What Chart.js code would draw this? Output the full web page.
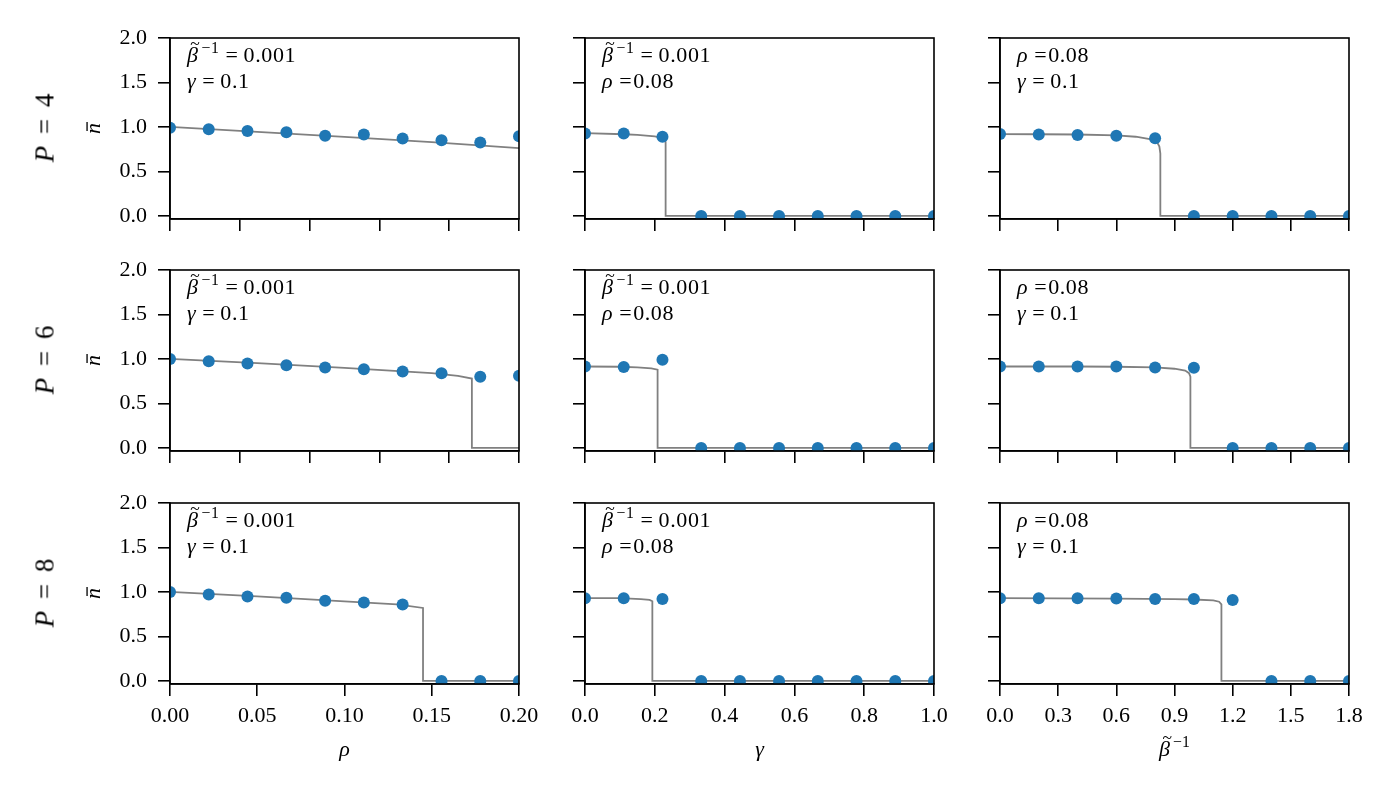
<!DOCTYPE html>
<html>
<head>
<meta charset="utf-8">
<script src="https://cdn.jsdelivr.net/npm/chart.js@4.4.1/dist/chart.umd.min.js"></script>
<style>
  html, body { margin: 0; padding: 0; background: #fff; }
  #fig { position: relative; width: 1394px; height: 796px; overflow: hidden; }
  .panel { position: absolute; }
  .rowlab { position: absolute; font-family: 'Liberation Serif', serif; font-size: 27px; word-spacing: 5px;
            transform: translate(-50%, -50%) rotate(-90deg); white-space: nowrap; }
</style>
</head>
<body>
<div id="fig"></div>
<script>
// sample positions of the dots
const rhoX   = [0, 0.0222, 0.0444, 0.0667, 0.0889, 0.1111, 0.1333, 0.1556, 0.1778, 0.2];
const gammaX = [0, 0.111, 0.222, 0.333, 0.444, 0.556, 0.667, 0.778, 0.889, 1.0];
const betaX  = [0, 0.2, 0.4, 0.6, 0.8, 1.0, 1.2, 1.4, 1.6, 1.8];

// dots (n bar), one array per panel
const dotsP4Rho   = [0.99, 0.975, 0.955, 0.94, 0.90, 0.915, 0.87, 0.85, 0.825, 0.895];
const dotsP4Gamma = [0.925, 0.925, 0.89, 0, 0, 0, 0, 0, 0, 0];
const dotsP4Beta  = [0.92, 0.915, 0.91, 0.90, 0.873, 0, 0, 0, 0, 0];
const dotsP6Rho   = [1.0, 0.975, 0.95, 0.93, 0.905, 0.885, 0.86, 0.84, 0.80, 0.81];
const dotsP6Gamma = [0.915, 0.91, 0.99, 0, 0, 0, 0, 0, 0, 0];
const dotsP6Beta  = [0.915, 0.915, 0.915, 0.915, 0.905, 0.90, 0, 0, 0, 0];
const dotsP8Rho   = [1.0, 0.97, 0.95, 0.935, 0.90, 0.88, 0.86, 0, 0, 0];
const dotsP8Gamma = [0.93, 0.93, 0.92, 0, 0, 0, 0, 0, 0, 0];
const dotsP8Beta  = [0.93, 0.93, 0.928, 0.925, 0.92, 0.92, 0.91, 0, 0, 0];

// theory curves
const curveP4RhoX   = [0, 0.05, 0.1, 0.15, 0.2];
const curveP4RhoY   = [1.0, 0.945, 0.888, 0.83, 0.762];
const curveP4GammaX = [0, 0.111, 0.15, 0.2, 0.222, 0.231, 0.231, 1.0];
const curveP4GammaY = [0.93, 0.918, 0.91, 0.895, 0.875, 0.83, 0, 0];
const curveP4BetaX  = [0, 0.2, 0.4, 0.6, 0.7, 0.78, 0.81, 0.822, 0.827, 0.827, 1.8];
const curveP4BetaY  = [0.92, 0.918, 0.915, 0.905, 0.89, 0.86, 0.83, 0.78, 0.70, 0, 0];
const curveP6RhoX   = [0, 0.05, 0.1, 0.15, 0.165, 0.173, 0.173, 0.2];
const curveP6RhoY   = [1.0, 0.953, 0.9, 0.84, 0.81, 0.78, 0, 0];
const curveP6GammaX = [0, 0.1, 0.15, 0.19, 0.208, 0.208, 1.0];
const curveP6GammaY = [0.915, 0.912, 0.905, 0.895, 0.88, 0, 0];
const curveP6BetaX  = [0, 0.4, 0.6, 0.8, 0.9, 0.955, 0.975, 0.982, 0.982, 1.8];
const curveP6BetaY  = [0.915, 0.915, 0.912, 0.905, 0.89, 0.87, 0.84, 0.80, 0, 0];
const curveP8RhoX   = [0, 0.05, 0.1, 0.13, 0.145, 0.145, 0.2];
const curveP8RhoY   = [1.0, 0.95, 0.895, 0.86, 0.82, 0, 0];
const curveP8GammaX = [0, 0.1, 0.16, 0.185, 0.193, 0.193, 1.0];
const curveP8GammaY = [0.93, 0.93, 0.92, 0.91, 0.895, 0, 0];
const curveP8BetaX  = [0, 0.6, 0.9, 1.0, 1.1, 1.13, 1.142, 1.142, 1.8];
const curveP8BetaY  = [0.93, 0.925, 0.92, 0.915, 0.905, 0.89, 0.86, 0, 0];

// ticks
const nTicks       = [0, 0.5, 1.0, 1.5, 2.0];
const rhoTicksTop  = [0, 0.04, 0.08, 0.12, 0.16, 0.2];
const rhoTicks     = [0, 0.05, 0.1, 0.15, 0.2];
const gammaTicks   = [0, 0.2, 0.4, 0.6, 0.8, 1.0];
const betaTicks    = [0, 0.3, 0.6, 0.9, 1.2, 1.5, 1.8];

const rowLabels = ['4', '6', '8'];

const FONT = 'Liberation Serif';
const TXT = 22;
const colLeft = [170, 585, 1000];
const rowTop = [38, 270, 503];
const plotW = 349, plotH = 181;
const padL = 130, padT = 15, padR = 35, padB = 90;

const fig = document.getElementById('fig');

// text made of runs: italic letters, superscripts, accents, gaps
function runFont(r, size) {
  const s = r.sup ? size * 0.72 : size;
  return (r.it ? 'italic ' : '') + s + 'px "' + FONT + '"';
}
function runsWidth(ctx, runs, size) {
  let w = 0;
  runs.forEach(r => {
    if (r.gap) { w += r.gap; return; }
    ctx.font = runFont(r, size);
    w += ctx.measureText(r.t).width;
  });
  return w;
}
function drawRuns(ctx, runs, x, yMid, size) {
  const base = yMid + 0.33 * size;
  ctx.textBaseline = 'alphabetic';
  ctx.textAlign = 'left';
  runs.forEach(r => {
    if (r.gap) { x += r.gap; return; }
    ctx.font = runFont(r, size);
    const w = ctx.measureText(r.t).width;
    ctx.fillText(r.t, x, r.sup ? base - 0.42 * size : base);
    if (r.acc === 'tilde') {
      ctx.font = (0.8 * size) + 'px "' + FONT + '"';
      const tw = ctx.measureText('~').width;
      ctx.fillText('~', x + w / 2 - tw / 2 + 0.12 * size, base - 0.6 * size);
    } else if (r.acc === 'bar') {
      ctx.beginPath();
      ctx.lineWidth = size * 0.06;
      ctx.moveTo(x + 0.14 * size, base - 0.6 * size);
      ctx.lineTo(x + w + 0.04 * size, base - 0.6 * size);
      ctx.stroke();
    }
    x += w;
  });
}

const textPlugin = {
  id: 'texts',
  afterDraw(chart, args, opts) {
    const { ctx, chartArea: a } = chart;
    ctx.save();
    ctx.strokeStyle = '#000';
    ctx.fillStyle = '#000';
    ctx.lineWidth = 1.6;
    ctx.strokeRect(a.left, a.top, a.right - a.left, a.bottom - a.top);
    ctx.letterSpacing = '0.6px';
    (opts.lines || []).forEach((runs, i) => {
      drawRuns(ctx, runs, a.left + 17, a.top + 17 + i * 26, TXT);
    });
    ctx.letterSpacing = '0px';
    if (opts.xTitle) {
      const w = runsWidth(ctx, opts.xTitle, TXT);
      drawRuns(ctx, opts.xTitle, (a.left + a.right) / 2 - w / 2, a.bottom + 65, TXT);
    }
    if (opts.yTitle) {
      const w = runsWidth(ctx, opts.yTitle, TXT);
      ctx.translate(a.left - 77, (a.top + a.bottom) / 2);
      ctx.rotate(-Math.PI / 2);
      drawRuns(ctx, opts.yTitle, -w / 2, 0, TXT);
    }
    ctx.restore();
  }
};

const EQ = [{ gap: 6 }, { t: '=' }, { gap: 5 }];
const noteBeta  = [{ t: 'β', it: true, acc: 'tilde' }, { gap: 3 }, { t: '−1', sup: true }].concat(EQ, [{ t: '0.001' }]);
const noteGamma = [{ t: 'γ', it: true }].concat(EQ, [{ t: '0.1' }]);
const noteRho   = [{ t: 'ρ', it: true }, { gap: 6 }, { t: '=' }, { gap: 1 }, { t: '0.08' }];
const titleN    = [{ t: 'n', it: true, acc: 'bar' }];

const cols = [
  { x: rhoX, max: 0.2, ticksTop: rhoTicksTop, ticksBottom: rhoTicks, dec: 2,
    title: [{ t: 'ρ', it: true }], notes: [noteBeta, noteGamma] },
  { x: gammaX, max: 1.0, ticksTop: gammaTicks, ticksBottom: gammaTicks, dec: 1,
    title: [{ t: 'γ', it: true }], notes: [noteBeta, noteRho] },
  { x: betaX, max: 1.8, ticksTop: betaTicks, ticksBottom: betaTicks, dec: 1,
    title: [{ t: 'β', it: true, acc: 'tilde' }, { gap: 3 }, { t: '−1', sup: true }], notes: [noteRho, noteGamma] }
];

const dots = [
  [dotsP4Rho, dotsP4Gamma, dotsP4Beta],
  [dotsP6Rho, dotsP6Gamma, dotsP6Beta],
  [dotsP8Rho, dotsP8Gamma, dotsP8Beta]
];
const curves = [
  [[curveP4RhoX, curveP4RhoY], [curveP4GammaX, curveP4GammaY], [curveP4BetaX, curveP4BetaY]],
  [[curveP6RhoX, curveP6RhoY], [curveP6GammaX, curveP6GammaY], [curveP6BetaX, curveP6BetaY]],
  [[curveP8RhoX, curveP8RhoY], [curveP8GammaX, curveP8GammaY], [curveP8BetaX, curveP8BetaY]]
];

const zip = (xs, ys) => xs.map((x, i) => ({ x: x, y: ys[i] }));
const setTicks = arr => scale => { scale.ticks = arr.map(v => ({ value: v })); };

for (let r = 0; r < 3; r++) {
  for (let c = 0; c < 3; c++) {
    const col = cols[c];
    const bottom = r === 2;
    const div = document.createElement('div');
    div.className = 'panel';
    const w = padL + plotW + padR, h = padT + plotH + padB;
    div.style.left = (colLeft[c] - padL) + 'px';
    div.style.top = (rowTop[r] - padT) + 'px';
    div.style.width = w + 'px';
    div.style.height = h + 'px';
    const canvas = document.createElement('canvas');
    canvas.width = w; canvas.height = h;
    canvas.style.width = w + 'px'; canvas.style.height = h + 'px';
    div.appendChild(canvas);
    fig.appendChild(div);

    const tickFont = { family: FONT, size: TXT };
    new Chart(canvas.getContext('2d'), {
      type: 'scatter',
      data: {
        datasets: [
          {
            data: zip(col.x, dots[r][c]),
            backgroundColor: '#1f77b4',
            borderWidth: 0,
            pointRadius: 6,
            pointHoverRadius: 6,
            clip: 0
          },
          {
            data: zip(curves[r][c][0], curves[r][c][1]),
            showLine: true,
            borderColor: '#808080',
            borderWidth: 1.8,
            pointRadius: 0,
            pointHoverRadius: 0,
            tension: 0,
            clip: 0
          }
        ]
      },
      options: {
        responsive: false,
        animation: false,
        devicePixelRatio: 1,
        events: [],
        layout: { padding: { left: 0, top: padT, right: padR, bottom: 0 } },
        plugins: {
          legend: { display: false },
          tooltip: { enabled: false },
          texts: {
            lines: col.notes,
            xTitle: bottom ? col.title : null,
            yTitle: c === 0 ? titleN : null
          }
        },
        scales: {
          x: {
            type: 'linear',
            min: 0, max: col.max,
            afterBuildTicks: setTicks(bottom ? col.ticksBottom : col.ticksTop),
            afterFit: s => { s.height = padB; s.paddingLeft = 0; s.paddingRight = 0; },
            grid: { drawOnChartArea: false, drawTicks: true, tickLength: 12, color: '#000', lineWidth: 1.6 },
            border: { display: true, color: '#000', width: 1.6 },
            ticks: {
              color: '#000', font: tickFont, padding: 7, maxRotation: 0, autoSkip: false,
              callback: v => bottom ? Number(v).toFixed(col.dec) : ''
            }
          },
          y: {
            type: 'linear',
            min: -0.035, max: 2.0,
            afterBuildTicks: setTicks(nTicks),
            afterFit: s => { s.width = padL; s.paddingTop = 0; s.paddingBottom = 0; },
            grid: { drawOnChartArea: false, drawTicks: true, tickLength: 12, color: '#000', lineWidth: 1.6 },
            border: { display: true, color: '#000', width: 1.6 },
            ticks: {
              color: '#000', font: tickFont, padding: 11, autoSkip: false,
              callback: v => c === 0 ? Number(v).toFixed(1) : ''
            }
          }
        }
      },
      plugins: [textPlugin]
    });
  }
  const lab = document.createElement('div');
  lab.className = 'rowlab';
  lab.innerHTML = '<i>P</i> = ' + rowLabels[r];
  lab.style.left = '45px';
  lab.style.top = (rowTop[r] + 90) + 'px';
  fig.appendChild(lab);
}
</script>
</body>
</html>
